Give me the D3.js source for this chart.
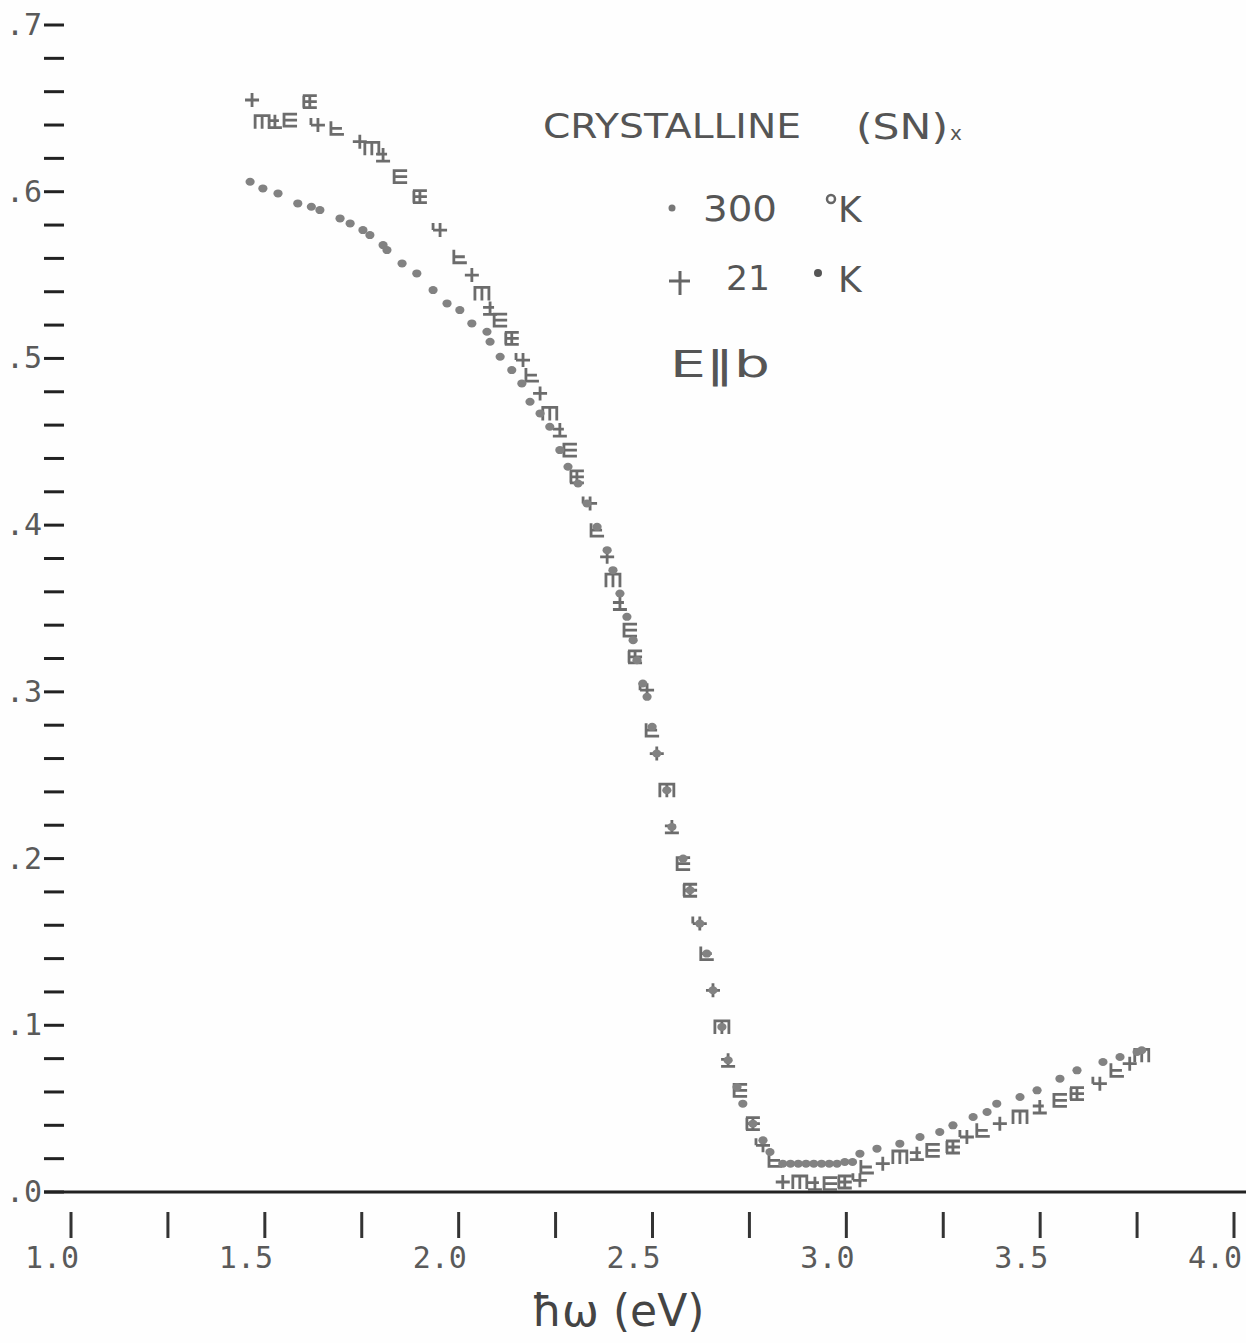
<!DOCTYPE html>
<html>
<head>
<meta charset="utf-8">
<script src="https://cdn.jsdelivr.net/npm/d3@7"></script>
<style>
  html, body { margin: 0; padding: 0; background: #ffffff; }
  svg { display: block; }
</style>
</head>
<body>
<script>
// ---- data (photon energy in eV, reflectance) ----
const energy300K = [1.462,1.495,1.534,1.585,1.620,1.642,1.694,1.720,1.753,1.771,1.805,1.815,1.854,1.892,1.934,1.970,2.003,2.034,2.073,2.081,2.107,2.137,2.163,2.184,2.210,2.235,2.261,2.282,2.308,2.331,2.357,2.383,2.398,2.416,2.434,2.450,2.460,2.475,2.486,2.499,2.511,2.537,2.550,2.579,2.597,2.622,2.640,2.656,2.679,2.695,2.718,2.733,2.759,2.785,2.803,2.836,2.856,2.876,2.896,2.916,2.936,2.956,2.976,2.996,3.016,3.035,3.079,3.138,3.190,3.241,3.275,3.327,3.363,3.388,3.448,3.492,3.551,3.595,3.662,3.706,3.750,3.762];
const refl300K   = [0.606,0.602,0.599,0.593,0.591,0.589,0.584,0.581,0.577,0.574,0.568,0.565,0.557,0.551,0.541,0.533,0.529,0.521,0.516,0.510,0.501,0.493,0.485,0.474,0.467,0.459,0.445,0.435,0.425,0.413,0.399,0.385,0.373,0.359,0.345,0.331,0.319,0.305,0.297,0.279,0.263,0.241,0.219,0.200,0.181,0.161,0.143,0.121,0.099,0.079,0.063,0.053,0.041,0.031,0.024,0.017,0.017,0.017,0.017,0.017,0.017,0.017,0.017,0.018,0.018,0.023,0.026,0.029,0.033,0.036,0.040,0.045,0.048,0.053,0.057,0.061,0.068,0.073,0.078,0.081,0.084,0.085];

const energy21K = [1.467,1.493,1.526,1.565,1.616,1.637,1.686,1.745,1.776,1.805,1.849,1.900,1.952,2.003,2.034,2.060,2.081,2.107,2.137,2.166,2.189,2.210,2.235,2.261,2.287,2.305,2.339,2.357,2.383,2.398,2.416,2.442,2.455,2.486,2.499,2.511,2.537,2.550,2.579,2.597,2.622,2.640,2.656,2.679,2.695,2.726,2.759,2.785,2.816,2.836,2.880,2.919,2.958,2.996,3.035,3.053,3.094,3.138,3.182,3.223,3.275,3.311,3.352,3.396,3.448,3.499,3.551,3.595,3.654,3.698,3.731,3.762];
const refl21K   = [0.655,0.642,0.642,0.643,0.654,0.640,0.638,0.630,0.626,0.622,0.609,0.597,0.577,0.561,0.550,0.539,0.530,0.523,0.512,0.499,0.490,0.479,0.467,0.457,0.445,0.429,0.413,0.397,0.381,0.367,0.353,0.337,0.321,0.301,0.277,0.263,0.241,0.219,0.197,0.181,0.161,0.143,0.121,0.099,0.079,0.061,0.041,0.028,0.019,0.006,0.006,0.005,0.005,0.006,0.007,0.015,0.017,0.021,0.023,0.025,0.027,0.033,0.037,0.041,0.045,0.051,0.055,0.059,0.065,0.073,0.077,0.082];

const xTickValues = [1.0,1.25,1.5,1.75,2.0,2.25,2.5,2.75,3.0,3.25,3.5,3.75,4.0];
const xTickLabels = ["1.0","1.5","2.0","2.5","3.0","3.5","4.0"];
const xLabelValues = [1.0,1.5,2.0,2.5,3.0,3.5,4.0];
const yMajorValues = [0,0.1,0.2,0.3,0.4,0.5,0.6,0.7];
const yMajorLabels = [".0",".1",".2",".3",".4",".5",".6",".7"];
const xTitle = "ħω (eV)";
const titleText = "CRYSTALLINE";
const titleFormula = "(SN)";
const legend300 = "300";
const legend21 = "21";
const polText = "E‖b";

// ---- layout ----
const W = 1246, H = 1343;
const svg = d3.select("body").append("svg").attr("width", W).attr("height", H);
svg.append("rect").attr("width", W).attr("height", H).attr("fill", "#fefefe");

const x = d3.scaleLinear().domain([1, 4]).range([71, 1234]);
const y = d3.scaleLinear().domain([0, 0.7]).range([1192, 25]);

const ink = "#222";
const grayInk = "#5a5a5a";

// x axis baseline
svg.append("line").attr("x1", 44).attr("x2", W).attr("y1", y(0)).attr("y2", y(0))
  .attr("stroke", ink).attr("stroke-width", 3);

// x ticks
svg.append("g").selectAll("line").data(xTickValues).join("line")
  .attr("x1", d => x(d)).attr("x2", d => x(d))
  .attr("y1", 1212).attr("y2", 1238)
  .attr("stroke", "#333").attr("stroke-width", 3);

svg.append("g").selectAll("text").data(xLabelValues).join("text")
  .attr("x", d => x(d) - 46).attr("y", 1268)
  .attr("font-family", "DejaVu Sans Mono, monospace").attr("font-size", 30)
  .attr("fill", grayInk)
  .text((d, i) => xTickLabels[i]);

// y minor ticks every 0.02
const yMinor = d3.range(0, 0.7001, 0.02);
svg.append("g").selectAll("line").data(yMinor).join("line")
  .attr("x1", 44).attr("x2", 64)
  .attr("y1", d => y(d)).attr("y2", d => y(d))
  .attr("stroke", ink).attr("stroke-width", 3);

svg.append("g").selectAll("text").data(yMajorValues).join("text")
  .attr("x", 42).attr("y", d => y(d) + 10)
  .attr("text-anchor", "end")
  .attr("font-family", "DejaVu Sans Mono, monospace").attr("font-size", 30)
  .attr("fill", grayInk)
  .text((d, i) => yMajorLabels[i]);

// x-axis title
svg.append("text").attr("x", 618).attr("y", 1326)
  .attr("text-anchor", "middle")
  .attr("font-family", "DejaVu Sans, sans-serif").attr("font-size", 44)
  .attr("fill", "#444")
  .text(xTitle);

// annotation
const ann = svg.append("g").attr("font-family", "DejaVu Sans, sans-serif").attr("fill", "#555");
ann.append("text").attr("x", 543).attr("y", 138).attr("font-size", 34)
  .attr("textLength", 258).attr("lengthAdjust", "spacingAndGlyphs").text(titleText);
ann.append("text").attr("x", 856).attr("y", 139).attr("font-size", 36)
  .attr("textLength", 92).attr("lengthAdjust", "spacingAndGlyphs").text(titleFormula);
ann.append("text").attr("x", 950).attr("y", 140).attr("font-size", 20).text("x");

// legend 300K
ann.append("circle").attr("cx", 672).attr("cy", 208).attr("r", 3.5).attr("fill", "#777");
ann.append("text").attr("x", 703).attr("y", 221).attr("font-size", 36)
  .attr("textLength", 74).attr("lengthAdjust", "spacingAndGlyphs").text(legend300);
ann.append("circle").attr("cx", 831).attr("cy", 199).attr("r", 4).attr("fill", "none")
  .attr("stroke", "#666").attr("stroke-width", 2.5);
ann.append("text").attr("x", 838).attr("y", 222).attr("font-size", 36).text("K");

// legend 21K
ann.append("path").attr("d", "M669,281H690M680,271V295").attr("stroke", "#666").attr("stroke-width", 3);
ann.append("text").attr("x", 726).attr("y", 290).attr("font-size", 34)
  .attr("textLength", 44).attr("lengthAdjust", "spacingAndGlyphs").text(legend21);
ann.append("circle").attr("cx", 818).attr("cy", 273).attr("r", 4).attr("fill", "#555");
ann.append("text").attr("x", 838).attr("y", 292).attr("font-size", 36).text("K");

ann.append("text").attr("x", 670).attr("y", 377).attr("font-size", 38)
  .attr("textLength", 100).attr("lengthAdjust", "spacingAndGlyphs").text(polText);

// ---- data marks ----
const pts300 = energy300K.map((e, i) => ({e, r: refl300K[i]}));
const pts21 = energy21K.map((e, i) => ({e, r: refl21K[i]}));

// 21 K: plotter glyphs (overstruck plus-like symbols)
const glyphs = [
  "M-7,0H7M0,-7V7",
  "M-7,7V-6H7V7M0,-6V7",
  "M-7,6H7M0,-7V6M-7,-1H4",
  "M7,-6H-6V6H7M-6,0H7",
  "M-7,-6H7M-7,0H7M-7,6H7M0,-6V6M-6,-6V6",
  "M-7,0H7M0,-7V7M-7,-7V0",
  "M-6,-7V6H7M-6,0H5"
];
svg.append("g").selectAll("path").data(pts21).join("path")
  .attr("transform", d => `translate(${x(d.e)},${y(d.r)})`)
  .attr("d", (d, i) => glyphs[i % glyphs.length])
  .attr("fill", "none").attr("stroke", "#6c6c6c").attr("stroke-width", 2.8);

// 300 K: dots
svg.append("g").selectAll("ellipse").data(pts300).join("ellipse")
  .attr("cx", d => x(d.e)).attr("cy", d => y(d.r))
  .attr("rx", 4.6).attr("ry", 4)
  .attr("fill", "#828282");
</script>
</body>
</html>
